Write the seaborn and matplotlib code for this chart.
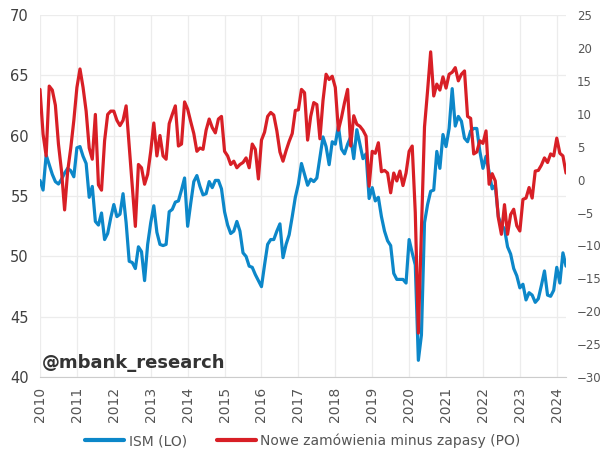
import numpy as np
import pandas as pd
import matplotlib
matplotlib.use('Agg')
import matplotlib.pyplot as plt
import seaborn as sns

# ISM manufacturing PMI (left axis), monthly Jan 2010 - Apr 2024
ism_2010 = [56.3, 55.5, 58.4, 57.6, 56.8, 56.2, 56.0, 56.4, 56.9, 57.3, 57.1, 56.6]
ism_2011 = [59.0, 59.1, 58.3, 57.7, 54.9, 55.8, 52.9, 52.6, 53.6, 51.4, 51.9, 53.2]
ism_2012 = [54.3, 53.3, 53.5, 55.2, 52.8, 49.6, 49.5, 49.0, 50.8, 50.4, 48.0, 51.0]
ism_2013 = [52.8, 54.2, 52.0, 51.0, 50.9, 51.0, 53.7, 53.9, 54.5, 54.6, 55.5, 56.5]
ism_2014 = [52.5, 54.4, 56.2, 56.7, 55.8, 55.1, 55.2, 56.2, 55.7, 56.3, 56.3, 55.6]
ism_2015 = [53.7, 52.6, 51.9, 52.1, 52.9, 52.1, 50.3, 50.0, 49.2, 49.1, 48.5, 48.0]
ism_2016 = [47.5, 49.3, 51.0, 51.4, 51.4, 52.1, 52.7, 49.9, 51.0, 51.8, 53.3, 54.9]
ism_2017 = [56.0, 57.7, 56.8, 55.9, 56.4, 56.2, 56.5, 58.2, 59.9, 59.1, 57.6, 59.5]
ism_2018 = [59.3, 60.8, 58.9, 58.5, 59.3, 59.9, 58.1, 60.5, 59.3, 58.1, 58.5, 54.8]
ism_2019 = [55.7, 54.6, 54.9, 53.3, 52.1, 51.3, 50.9, 48.6, 48.1, 48.1, 48.1, 47.8]
ism_2020 = [51.4, 50.3, 49.3, 41.4, 43.5, 52.8, 54.3, 55.4, 55.5, 58.7, 57.3, 60.1]
ism_2021 = [59.1, 60.6, 63.9, 60.8, 61.6, 61.2, 59.8, 59.5, 60.4, 60.6, 60.6, 58.7]
ism_2022 = [57.3, 58.3, 57.0, 55.6, 55.9, 53.3, 52.6, 52.3, 50.8, 50.2, 49.0, 48.4]
ism_2023 = [47.4, 47.7, 46.4, 47.0, 46.8, 46.2, 46.5, 47.6, 48.8, 46.8, 46.7, 47.2]
ism_2024 = [49.1, 47.8, 50.3, 49.2]

# new orders minus inventories (right axis)
nz_2010 = [13.7, 6.9, 3.6, 14.2, 13.6, 11.3, 5.4, 1.3, -4.6, 1.3, 4.8, 9.0]
nz_2011 = [14.0, 16.8, 14.0, 10.4, 4.8, 3.1, 9.9, -0.8, -1.6, 5.9, 9.9, 10.4]
nz_2012 = [10.4, 9.0, 8.2, 9.0, 11.2, 5.0, -1.0, -7.1, 2.3, 1.8, -0.7, 0.8]
nz_2013 = [4.3, 8.6, 3.6, 6.7, 3.6, 3.1, 8.5, 9.9, 11.2, 5.1, 5.4, 11.8]
nz_2014 = [10.7, 8.8, 7.0, 4.3, 4.8, 4.6, 7.5, 9.2, 7.9, 7.1, 9.2, 9.6]
nz_2015 = [4.3, 3.6, 2.3, 2.8, 1.8, 2.3, 2.6, 3.3, 1.8, 5.4, 4.6, 0.1]
nz_2016 = [6.0, 7.2, 9.6, 10.2, 9.8, 7.4, 4.2, 2.8, 4.4, 5.8, 7.0, 10.5]
nz_2017 = [10.6, 13.7, 13.2, 6.0, 9.6, 11.7, 11.4, 6.2, 12.0, 16.0, 15.2, 15.7]
nz_2018 = [14.0, 7.5, 9.4, 11.7, 13.7, 5.1, 9.7, 8.4, 8.1, 7.5, 6.6, -1.0]
nz_2019 = [4.3, 4.0, 5.6, 1.2, 1.4, 1.0, -2.0, 1.0, -0.2, 1.3, -0.9, 1.0]
nz_2020 = [4.3, 5.1, -5.0, -23.3, -7.5, 8.0, 13.5, 19.4, 12.7, 14.5, 13.6, 15.6]
nz_2021 = [13.9, 16.0, 16.3, 17.0, 15.0, 16.0, 16.5, 9.6, 9.3, 3.9, 4.2, 5.9]
nz_2022 = [5.5, 7.4, -0.7, 0.9, -0.2, -5.8, -8.3, -3.8, -8.3, -5.3, -4.5, -7.0]
nz_2023 = [-7.8, -3.0, -2.8, -1.2, -2.8, 1.3, 1.4, 2.2, 3.3, 2.6, 3.9, 3.6]
nz_2024 = [6.3, 4.0, 3.6, 1.0]

years = list(range(2010, 2025))
ism = sum([ism_2010, ism_2011, ism_2012, ism_2013, ism_2014, ism_2015, ism_2016,
           ism_2017, ism_2018, ism_2019, ism_2020, ism_2021, ism_2022, ism_2023,
           ism_2024], [])
nz = sum([nz_2010, nz_2011, nz_2012, nz_2013, nz_2014, nz_2015, nz_2016,
          nz_2017, nz_2018, nz_2019, nz_2020, nz_2021, nz_2022, nz_2023,
          nz_2024], [])

df = pd.DataFrame({'t': 2010 + np.arange(len(ism)) / 12, 'ism': ism, 'nz': nz})

sns.set_style('white')
plt.rcParams['font.family'] = ['DejaVu Sans']

blue = '#0c87c9'
red = '#d81f26'

fig = plt.figure(figsize=(6.06, 4.68), dpi=100)
ax = fig.add_axes([0.066, 0.194, 0.868, 0.774])
ax2 = ax.twinx()

sns.lineplot(data=df, x='t', y='ism', ax=ax, color=blue, linewidth=2.3, label='ISM (LO)', legend=False)
sns.lineplot(data=df, x='t', y='nz', ax=ax2, color=red, linewidth=2.3,
             label='Nowe zamówienia minus zapasy (PO)', legend=False)

ax.set_xlim(df['t'].iloc[0], df['t'].iloc[-1])
ax.set_ylim(40, 70)
ax2.set_ylim(-30, 25)
ax.set_xticks(years)
ax.set_xticklabels([str(y) for y in years], rotation=90)
ax.set_yticks(range(40, 71, 5))
ax2.set_yticks(range(-30, 26, 5))

ax.grid(True, color='#ececec', linewidth=0.9)
ax.set_axisbelow(True)
for a in (ax, ax2):
    for s in ['top', 'left', 'right']:
        a.spines[s].set_visible(False)
    a.set_xlabel('')
    a.set_ylabel('')
ax.spines['bottom'].set_color('#cccccc')
ax2.spines['bottom'].set_visible(False)

ax.tick_params(axis='y', labelsize=10.5, colors='#404040', length=0, pad=8)
ax.tick_params(axis='x', labelsize=10, colors='#555555', length=4, width=0.8, pad=3)
ax.tick_params(axis='x', color='#cccccc')
ax2.tick_params(axis='y', labelsize=8.5, colors='#555555', length=0, pad=8)

ax.text(0.004, 0.015, '@mbank_research', transform=ax.transAxes, fontsize=13,
        fontweight='bold', color='#333333', va='bottom', ha='left')

h1, l1 = ax.get_legend_handles_labels()
h2, l2 = ax2.get_legend_handles_labels()
leg = fig.legend(h1 + h2, l1 + l2, loc='center', bbox_to_anchor=(0.5, 0.058), ncol=2,
                 frameon=False, fontsize=10, handlelength=2.8, handletextpad=0.3,
                 columnspacing=2.2)
for t in leg.get_texts():
    t.set_color('#555555')
for h in leg.get_lines():
    h.set_linewidth(3)

fig.savefig('out.png', dpi=100)
